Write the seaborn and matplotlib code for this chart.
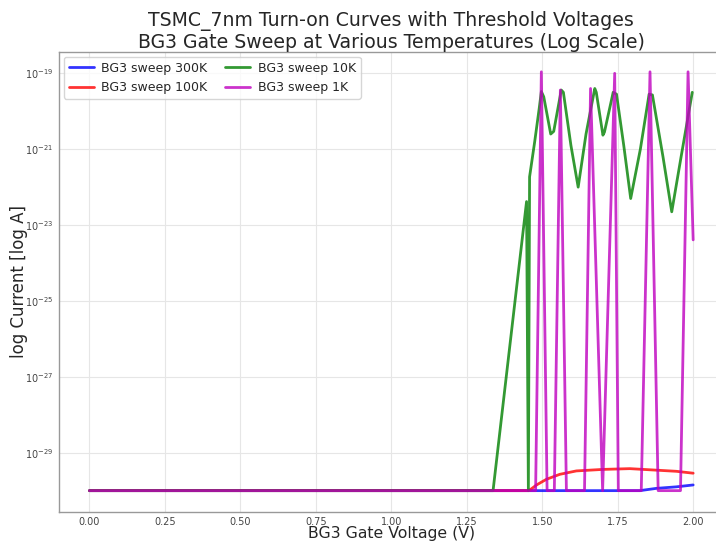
import numpy as np
import pandas as pd
import matplotlib
matplotlib.use("Agg")
import matplotlib.pyplot as plt
import seaborn as sns

# values (voltage in V, current as log10 of A)
v_300k = [0.00, 1.45, 1.823, 1.878, 1.944, 2.00]
log_300k = [-30.0, -30.0, -30.0, -29.94, -29.90, -29.85]

v_100k = [0.00, 1.456, 1.481, 1.514, 1.558, 1.613, 1.701, 1.790, 1.878, 1.944, 2.00]
log_100k = [-30.0, -30.0, -29.85, -29.70, -29.57, -29.48, -29.44, -29.42, -29.46, -29.49, -29.54]

v_10k = [0.00, 1.337, 1.448, 1.454, 1.458, 1.475, 1.49, 1.497, 1.505, 1.528, 1.538,
         1.563, 1.570, 1.595, 1.619, 1.645, 1.674, 1.679, 1.701, 1.706, 1.735, 1.746,
         1.770, 1.793, 1.825, 1.854, 1.865, 1.900, 1.929, 1.960, 1.997]
log_10k = [-30.0, -30.0, -22.38, -30.0, -21.73, -20.8, -19.92, -19.48, -19.62, -20.6, -20.53,
           -19.44, -19.5, -20.9, -22.0, -20.6, -19.40, -19.5, -20.63, -20.55, -19.5, -19.55,
           -20.9, -22.30, -21.0, -19.55, -19.57, -21.2, -22.65, -21.2, -19.5]

v_1k = [0.00, 1.478, 1.497, 1.516, 1.54, 1.56, 1.58, 1.64, 1.66, 1.70, 1.74, 1.752,
        1.828, 1.857, 1.884, 1.958, 1.983, 2.00]
log_1k = [-30.0, -30.0, -18.96, -30.0, -30.0, -19.44, -30.0, -30.0, -19.40, -30.0, -19.0, -30.0,
          -30.0, -18.96, -30.0, -30.0, -18.96, -23.39]

labels = ["BG3 sweep 300K", "BG3 sweep 100K", "BG3 sweep 10K", "BG3 sweep 1K"]
colors = ["#0000ff", "#ff0000", "#008000", "#bf00bf"]

frames = []
for lab, v, lg in zip(labels, [v_300k, v_100k, v_10k, v_1k], [log_300k, log_100k, log_10k, log_1k]):
    frames.append(pd.DataFrame({"Voltage": v, "Current": 10.0 ** np.array(lg), "Sweep": lab}))
df = pd.concat(frames, ignore_index=True)

sns.set_style("white")
plt.rcParams['font.family'] = ['DejaVu Sans']

fig = plt.figure(figsize=(7.16, 5.42), dpi=100)
ax = fig.add_axes([0.0824, 0.0559, 0.9283, 0.8487])

sns.lineplot(data=df, x="Voltage", y="Current", hue="Sweep", palette=dict(zip(labels, colors)),
             estimator=None, sort=False, linewidth=2, alpha=0.8, ax=ax)

ax.set_yscale("log")
ax.set_xlim(-0.101, 2.101)
ax.set_ylim(10 ** -30.555, 10 ** -18.43)
ax.set_xticks([0, 0.25, 0.5, 0.75, 1.0, 1.25, 1.5, 1.75, 2.0])
ax.set_yticks([1e-29, 1e-27, 1e-25, 1e-23, 1e-21, 1e-19])
ax.minorticks_off()
ax.tick_params(labelsize=7, colors="#444444", length=2.5, width=0.6, pad=1.5)
ax.grid(True, color="#e6e6e6", linewidth=0.8)
for s in ax.spines.values():
    s.set_color("#999999")
    s.set_linewidth(1.0)

ax.set_title("TSMC_7nm Turn-on Curves with Threshold Voltages\nBG3 Gate Sweep at Various Temperatures (Log Scale)",
             fontsize=13.6, pad=3, linespacing=1.1)
ax.set_xlabel("BG3 Gate Voltage (V)", fontsize=11.3)
ax.set_ylabel("log Current [log A]", fontsize=12)
ax.yaxis.set_label_coords(-0.047, 0.5)
ax.xaxis.set_label_coords(0.5, -0.031)
ax.legend(ncol=2, loc="upper left", fontsize=9, handlelength=2.0, borderaxespad=0.4,
          columnspacing=1.4, handletextpad=0.6, frameon=True)

fig.savefig("out.png", dpi=100)
